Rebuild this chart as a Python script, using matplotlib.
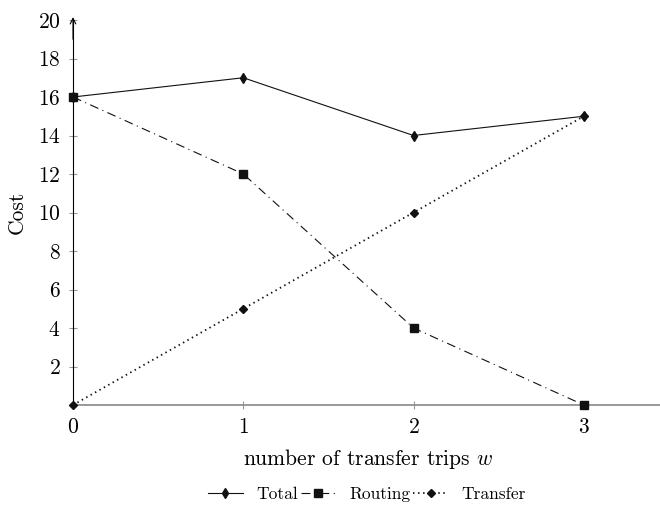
import matplotlib
matplotlib.use("Agg")
import matplotlib.pyplot as plt

plt.rcParams['font.family'] = ['cmr10', 'DejaVu Serif']
plt.rcParams['mathtext.fontset'] = 'cm'
plt.rcParams['axes.formatter.use_mathtext'] = True

x = [0, 1, 2, 3]
total = [16, 17, 14, 15]
routing = [16, 12, 4, 0]
transfer = [0, 5, 10, 15]
yticks = [2, 4, 6, 8, 10, 12, 14, 16, 18, 20]
xticks = [0, 1, 2, 3]

fig = plt.figure(figsize=(6.6, 5.07), dpi=100)
ax = fig.add_axes([73/660, 102/507, 590/660, 385/507])

ax.plot(x, total, color='#111111', lw=0.8, marker='d', ms=5, label='Total', clip_on=False, zorder=3)
ax.plot(x, routing, color='#111111', lw=0.8, ls=(0, (8, 4, 1, 4)), marker='s', ms=5.5, label='Routing', clip_on=False, zorder=3)
ax.plot(x, transfer, color='#111111', lw=1.3, ls=(0, (0.8, 2.0)), marker='D', ms=4.2, label='Transfer', clip_on=False, zorder=3)

ax.set_xlim(0, 3.465)
ax.set_ylim(0, 20)
ax.set_xticks(xticks)
ax.set_yticks(yticks)
ax.tick_params(direction='inout', length=6, width=0.8, color='#999999', labelsize=15.5, pad=6)
for s in ['top', 'right']:
    ax.spines[s].set_visible(False)
ax.spines['bottom'].set_color('#888888')
ax.spines['bottom'].set_linewidth(1.2)
ax.spines['left'].set_color('black')
ax.spines['left'].set_linewidth(0.8)
ax.annotate('', xy=(0, 20.15), xytext=(0, 19.0), xycoords='data',
            arrowprops=dict(arrowstyle='->', color='black', lw=0.8, shrinkA=0, shrinkB=0),
            annotation_clip=False)

ax.set_xlabel(r'number of transfer trips $w$', fontsize=15.5, labelpad=7)
ax.set_ylabel('Cost', fontsize=15.5, labelpad=8)

leg = ax.legend(loc='center', ncol=3, frameon=False, fontsize=12.5, handlelength=2.0,
                columnspacing=0.15, handletextpad=0.8)
leg.set_bbox_to_anchor((367/660, 13/507), transform=fig.transFigure)

fig.savefig('out.png', dpi=100)
